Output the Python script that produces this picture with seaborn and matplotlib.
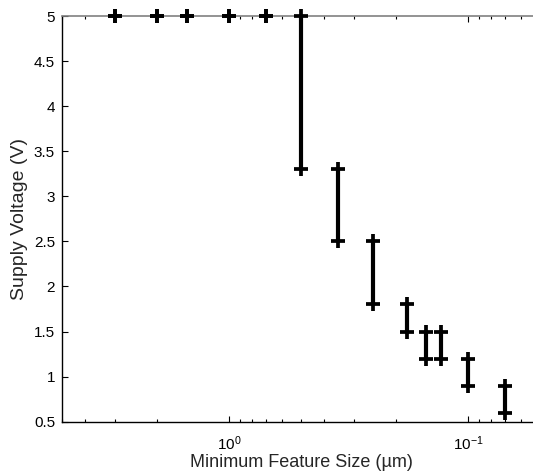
import pandas as pd
import matplotlib
matplotlib.use("Agg")
import matplotlib.pyplot as plt
import matplotlib.ticker as mticker
import seaborn as sns

# feature size (um) and supply voltage range (V) per node
sizes = [3, 2, 1.5, 1, 0.7, 0.5, 0.35, 0.25, 0.18, 0.15, 0.13, 0.1, 0.07]
v_high = [5, 5, 5, 5, 5, 5, 3.3, 2.5, 1.8, 1.5, 1.5, 1.2, 0.9]
v_low = [5, 5, 5, 5, 5, 3.3, 2.5, 1.8, 1.5, 1.2, 1.2, 0.9, 0.6]

rows = []
for i, s in enumerate(sizes):
    rows.append({"node": i, "size": s, "volt": v_high[i]})
    rows.append({"node": i, "size": s, "volt": v_low[i]})
df = pd.DataFrame(rows)

sns.set_style("white")
plt.rcParams["font.family"] = ["Liberation Sans", "DejaVu Sans"]
plt.rcParams["mathtext.fontset"] = "custom"
plt.rcParams["mathtext.rm"] = "Liberation Sans"

fig = plt.figure(figsize=(5.33, 4.75), dpi=100)
ax = fig.add_axes([62 / 533, 53.3 / 475, (540 - 62) / 533, (421.7 - 16) / 475])

sns.lineplot(data=df, x="size", y="volt", units="node", estimator=None, sort=False,
             color="black", lw=3, marker="+", ms=10, mew=2.7, mec="black",
             legend=False, ax=ax, clip_on=False, zorder=5)

ax.set_xscale("log")
ax.set_xlim(5, 0.05)
ax.set_ylim(0.5, 5)
ax.set_yticks([0.5, 1, 1.5, 2, 2.5, 3, 3.5, 4, 4.5, 5])
ax.set_yticklabels(["0.5", "1", "1.5", "2", "2.5", "3", "3.5", "4", "4.5", "5"])
ax.set_xticks([1, 0.1])
ax.set_xticklabels([r"$\mathregular{10^{0}}$", r"$\mathregular{10^{-1}}$"])
ax.xaxis.set_minor_locator(mticker.LogLocator(base=10, subs=range(2, 10), numticks=20))
ax.xaxis.set_minor_formatter(mticker.NullFormatter())

ax.tick_params(axis="both", which="both", direction="in", labelsize=11, colors="black",
               top=True, left=True, bottom=True, right=False)
ax.tick_params(axis="both", which="major", length=4, width=0.8, pad=5)
ax.tick_params(axis="x", which="major", pad=9)
ax.tick_params(axis="x", which="minor", length=2.5, width=0.8)

for side in ["left", "bottom"]:
    ax.spines[side].set_color("black")
    ax.spines[side].set_linewidth(1)
ax.spines["top"].set_color("#808080")
ax.spines["top"].set_linewidth(1.2)
ax.spines["right"].set_visible(False)

ax.set_xlabel("Minimum Feature Size (\u00b5m)", fontsize=13, labelpad=1)
ax.set_ylabel("Supply Voltage (V)", fontsize=14, labelpad=4)

fig.savefig("out.png", dpi=100)
